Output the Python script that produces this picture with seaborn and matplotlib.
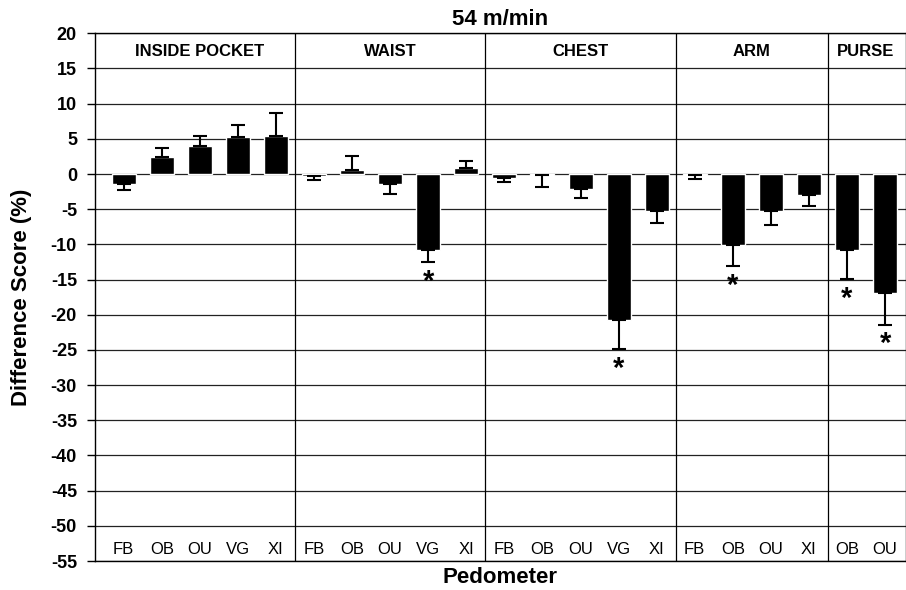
"""
Difference scores by pedometer and wear location at 54 m/min.
"""

import numpy as np
import pandas as pd
import matplotlib

matplotlib.use("Agg")
import matplotlib.pyplot as plt
import seaborn as sns

OUTPUT_FILEPATH = "out.png"

# Data
LOCATIONS = ["INSIDE POCKET", "WAIST", "CHEST", "ARM", "PURSE"]
PEDOMETERS = [
    ["FB", "OB", "OU", "VG", "XI"],
    ["FB", "OB", "OU", "VG", "XI"],
    ["FB", "OB", "OU", "VG", "XI"],
    ["FB", "OB", "OU", "XI"],
    ["OB", "OU"],
]
MEANS = [
    [-1.4, 2.4, 4.0, 5.2, 5.4],
    [-0.3, 0.55, -1.45, -10.8, 0.8],
    [-0.6, -0.1, -2.1, -20.8, -5.3],
    [-0.1, -10.1, -5.2, -3.0],
    [-10.8, -16.9],
]
ERRORS = [
    [0.9, 1.3, 1.4, 1.7, 3.3],
    [0.5, 2.05, 1.35, 1.7, 1.0],
    [0.55, 1.7, 1.25, 4.1, 1.6],
    [0.65, 3.0, 2.05, 1.6],
    [4.1, 4.5],
]
SIGNIFICANT = [
    [False, False, False, False, False],
    [False, False, False, True, False],
    [False, False, False, True, False],
    [False, True, False, False],
    [True, True],
]

# Figure settings
TITLE_FONTSIZE = 16
LABEL_FONTSIZE = 16
TICK_FONTSIZE = 13
XTICK_FONTSIZE = 12
GROUP_FONTSIZE = 12
STAR_FONTSIZE = 21

sns.set_style("white")
plt.rcParams["font.family"] = ["Liberation Sans", "DejaVu Sans"]
plt.rcParams["axes.unicode_minus"] = False
plt.rcParams["text.color"] = "black"
plt.rcParams["axes.labelcolor"] = "black"
plt.rcParams["xtick.color"] = "black"
plt.rcParams["ytick.color"] = "black"


def build_table():
    rows = []
    for loc, peds, means, errs, sig in zip(
        LOCATIONS, PEDOMETERS, MEANS, ERRORS, SIGNIFICANT
    ):
        for ped, m, e, s in zip(peds, means, errs, sig):
            rows.append(
                {
                    "slot": f"{loc} {ped}",
                    "location": loc,
                    "pedometer": ped,
                    "score": m,
                    "error": e,
                    "significant": s,
                }
            )
    return pd.DataFrame(rows)


def main():
    df = build_table()
    n = len(df)
    pos = np.arange(n)

    fig = plt.figure(figsize=(9.06, 5.90), dpi=100)
    ax = fig.add_axes([95 / 906, 1 - 561 / 590, 811 / 906, 527.7 / 590])

    sns.barplot(
        data=df,
        x="slot",
        y="score",
        order=list(df["slot"]),
        color="black",
        saturation=1,
        width=0.63,
        errorbar=None,
        ax=ax,
        zorder=2,
    )

    # one-sided error bars in the direction of the bar
    neg = df["score"] < 0
    lower = np.where(neg, df["error"], 0)
    upper = np.where(neg, 0, df["error"])
    ax.errorbar(
        pos,
        df["score"],
        yerr=[lower, upper],
        fmt="none",
        ecolor="black",
        elinewidth=1.5,
        capsize=4.7,
        capthick=1.5,
        zorder=3,
    )

    # asterisks below the error bar caps
    for i, row in df.iterrows():
        if row["significant"]:
            cap = row["score"] - row["error"]
            ax.annotate(
                "*",
                xy=(i, cap),
                xytext=(0, -20),
                textcoords="offset points",
                ha="center",
                va="baseline",
                fontsize=STAR_FONTSIZE,
                fontweight="bold",
            )

    # group separators and group labels
    sizes = [len(p) for p in PEDOMETERS]
    bounds = np.cumsum(sizes)
    for b in bounds[:-1]:
        ax.axvline(b - 0.5, color="black", lw=0.9, zorder=1)
    xmin, xmax = -0.754, 20.55
    starts = np.concatenate([[0], bounds[:-1]])
    for loc, s, e in zip(LOCATIONS, starts, bounds):
        left = max(s - 0.5, xmin)
        right = min(e - 0.5, xmax)
        ax.text(
            (left + right) / 2,
            17.4,
            loc,
            ha="center",
            va="center",
            fontsize=GROUP_FONTSIZE,
            fontweight="bold",
        )

    ax.set_xlim(xmin, xmax)
    ax.set_ylim(-55, 20)
    ax.set_yticks(np.arange(-55, 21, 5))
    ax.yaxis.grid(True, color="#222222", lw=0.9)
    ax.set_axisbelow(True)

    ax.set_xticks(pos)
    ax.set_xticklabels(df["pedometer"], fontsize=XTICK_FONTSIZE)
    ax.tick_params(axis="x", length=0, pad=-13.5)
    ax.tick_params(
        axis="y",
        left=True,
        direction="out",
        length=6,
        width=1,
        color="black",
        pad=7,
        labelsize=TICK_FONTSIZE,
    )
    for lab in ax.get_yticklabels():
        lab.set_fontweight("bold")

    for side in ["left", "bottom", "top", "right"]:
        ax.spines[side].set_color("black")
        ax.spines[side].set_linewidth(1)

    ax.set_title("54 m/min", fontsize=TITLE_FONTSIZE, fontweight="bold", pad=6)
    ax.set_xlabel("Pedometer", fontsize=LABEL_FONTSIZE, fontweight="bold", va="top")
    ax.xaxis.set_label_coords(0.5, -0.012)
    ax.set_ylabel("Difference Score (%)", fontsize=LABEL_FONTSIZE, fontweight="bold")
    ax.yaxis.set_label_coords(-0.078, 0.5)

    fig.savefig(OUTPUT_FILEPATH, dpi=100)


if __name__ == "__main__":
    main()
